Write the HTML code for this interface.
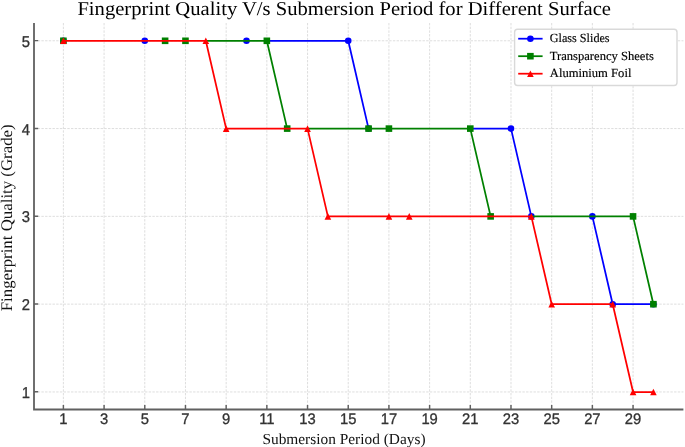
<!DOCTYPE html><html><head><meta charset="utf-8"><style>html,body{margin:0;padding:0;background:#fff;overflow:hidden;}svg{display:block;}</style></head><body>
<svg width="685" height="447" viewBox="0 0 685 447" text-rendering="geometricPrecision" style="filter:blur(0.6px)">
<rect x="-5" y="-5" width="695" height="457" fill="#fff"/>
<path d="M63.40 23.0 V409.5 M104.09 23.0 V409.5 M144.78 23.0 V409.5 M185.47 23.0 V409.5 M226.16 23.0 V409.5 M266.85 23.0 V409.5 M307.54 23.0 V409.5 M348.23 23.0 V409.5 M388.92 23.0 V409.5 M429.61 23.0 V409.5 M470.30 23.0 V409.5 M510.99 23.0 V409.5 M551.68 23.0 V409.5 M592.37 23.0 V409.5 M633.06 23.0 V409.5 M34.0 391.95 H683.4 M34.0 304.15 H683.4 M34.0 216.35 H683.4 M34.0 128.55 H683.4 M34.0 40.75 H683.4" stroke="#dadada" stroke-width="0.9" stroke-dasharray="2.4 1.3" fill="none"/>
<path d="M63.40 409.5 V405.0 M104.09 409.5 V405.0 M144.78 409.5 V405.0 M185.47 409.5 V405.0 M226.16 409.5 V405.0 M266.85 409.5 V405.0 M307.54 409.5 V405.0 M348.23 409.5 V405.0 M388.92 409.5 V405.0 M429.61 409.5 V405.0 M470.30 409.5 V405.0 M510.99 409.5 V405.0 M551.68 409.5 V405.0 M592.37 409.5 V405.0 M633.06 409.5 V405.0 M34.0 391.80 H38.2 M34.0 304.00 H38.2 M34.0 216.20 H38.2 M34.0 128.40 H38.2 M34.0 40.60 H38.2" stroke="#606060" stroke-width="1.45" fill="none"/>
<path d="M34.0 23.0 V409.5 H683.4" stroke="#606060" stroke-width="1.8" fill="none" stroke-linecap="butt" stroke-linejoin="miter"/>
<g font-family="Liberation Sans, sans-serif" font-size="14.8" fill="#333333" stroke="#333333" stroke-width="0.3" text-anchor="middle">
<text transform="translate(63.40 423.9) scale(1 1.03)">1</text>
<text transform="translate(104.09 423.9) scale(1 1.03)">3</text>
<text transform="translate(144.78 423.9) scale(1 1.03)">5</text>
<text transform="translate(185.47 423.9) scale(1 1.03)">7</text>
<text transform="translate(226.16 423.9) scale(1 1.03)">9</text>
<text transform="translate(266.85 423.9) scale(1 1.03)">11</text>
<text transform="translate(307.54 423.9) scale(1 1.03)">13</text>
<text transform="translate(348.23 423.9) scale(1 1.03)">15</text>
<text transform="translate(388.92 423.9) scale(1 1.03)">17</text>
<text transform="translate(429.61 423.9) scale(1 1.03)">19</text>
<text transform="translate(470.30 423.9) scale(1 1.03)">21</text>
<text transform="translate(510.99 423.9) scale(1 1.03)">23</text>
<text transform="translate(551.68 423.9) scale(1 1.03)">25</text>
<text transform="translate(592.37 423.9) scale(1 1.03)">27</text>
<text transform="translate(633.06 423.9) scale(1 1.03)">29</text>
</g>
<g font-family="Liberation Sans, sans-serif" font-size="14.8" fill="#333333" stroke="#333333" stroke-width="0.3" text-anchor="end">
<text transform="translate(30.0 397.90) scale(1 1.06)">1</text>
<text transform="translate(30.0 310.10) scale(1 1.06)">2</text>
<text transform="translate(30.0 222.30) scale(1 1.06)">3</text>
<text transform="translate(30.0 134.50) scale(1 1.06)">4</text>
<text transform="translate(30.0 46.70) scale(1 1.06)">5</text>
</g>
<path d="M266.85 40.80 L348.23 40.80 L368.57 128.60 M470.30 128.60 L510.99 128.60 L531.33 216.40 M592.37 216.40 L612.71 304.20 L653.40 304.20" stroke="#0000ff" stroke-width="1.75" fill="none" stroke-linejoin="round" stroke-linecap="butt"/>
<circle cx="63.40" cy="40.80" r="3.30" fill="#0000ff"/>
<circle cx="144.78" cy="40.80" r="3.30" fill="#0000ff"/>
<circle cx="246.50" cy="40.80" r="3.30" fill="#0000ff"/>
<circle cx="348.23" cy="40.80" r="3.30" fill="#0000ff"/>
<circle cx="368.57" cy="128.60" r="3.30" fill="#0000ff"/>
<circle cx="510.99" cy="128.60" r="3.30" fill="#0000ff"/>
<circle cx="531.33" cy="216.40" r="3.30" fill="#0000ff"/>
<circle cx="592.37" cy="216.40" r="3.30" fill="#0000ff"/>
<circle cx="612.71" cy="304.20" r="3.30" fill="#0000ff"/>
<circle cx="653.40" cy="304.20" r="3.30" fill="#0000ff"/>
<path d="M205.81 40.80 L266.85 40.80 L287.19 128.60 M307.54 128.60 L368.57 128.60 L388.92 128.60 L470.30 128.60 L490.64 216.40 M531.33 216.40 L633.06 216.40 L653.40 304.20" stroke="#008000" stroke-width="1.75" fill="none" stroke-linejoin="round" stroke-linecap="butt"/>
<rect x="60.10" y="37.50" width="6.60" height="6.60" fill="#008000"/>
<rect x="161.82" y="37.50" width="6.60" height="6.60" fill="#008000"/>
<rect x="182.17" y="37.50" width="6.60" height="6.60" fill="#008000"/>
<rect x="263.55" y="37.50" width="6.60" height="6.60" fill="#008000"/>
<rect x="283.89" y="125.30" width="6.60" height="6.60" fill="#008000"/>
<rect x="365.27" y="125.30" width="6.60" height="6.60" fill="#008000"/>
<rect x="385.62" y="125.30" width="6.60" height="6.60" fill="#008000"/>
<rect x="467.00" y="125.30" width="6.60" height="6.60" fill="#008000"/>
<rect x="487.34" y="213.10" width="6.60" height="6.60" fill="#008000"/>
<rect x="629.76" y="213.10" width="6.60" height="6.60" fill="#008000"/>
<rect x="650.11" y="300.90" width="6.60" height="6.60" fill="#008000"/>
<path d="M63.40 40.80 L205.81 40.80 L226.16 128.60 L307.54 128.60 L327.88 216.40 L388.92 216.40 L409.26 216.40 L531.33 216.40 L551.68 304.20 L612.71 304.20 L633.06 392.00 L653.40 392.00" stroke="#ff0000" stroke-width="1.75" fill="none" stroke-linejoin="round" stroke-linecap="butt"/>
<path d="M63.40 37.50 L66.70 44.10 L60.10 44.10 Z" fill="#ff0000"/>
<path d="M205.81 37.50 L209.12 44.10 L202.51 44.10 Z" fill="#ff0000"/>
<path d="M226.16 125.30 L229.46 131.90 L222.86 131.90 Z" fill="#ff0000"/>
<path d="M307.54 125.30 L310.84 131.90 L304.24 131.90 Z" fill="#ff0000"/>
<path d="M327.88 213.10 L331.19 219.70 L324.58 219.70 Z" fill="#ff0000"/>
<path d="M388.92 213.10 L392.22 219.70 L385.62 219.70 Z" fill="#ff0000"/>
<path d="M409.26 213.10 L412.56 219.70 L405.96 219.70 Z" fill="#ff0000"/>
<path d="M531.33 213.10 L534.63 219.70 L528.03 219.70 Z" fill="#ff0000"/>
<path d="M551.68 300.90 L554.98 307.50 L548.38 307.50 Z" fill="#ff0000"/>
<path d="M612.71 300.90 L616.01 307.50 L609.41 307.50 Z" fill="#ff0000"/>
<path d="M633.06 388.70 L636.36 395.30 L629.76 395.30 Z" fill="#ff0000"/>
<path d="M653.40 388.70 L656.70 395.30 L650.11 395.30 Z" fill="#ff0000"/>
<rect x="514.6" y="29.3" width="162.4" height="56.2" rx="3" ry="3" fill="#fff" stroke="#d9d9d9" stroke-width="1.4"/>
<path d="M518.2 38.7 H542.6" stroke="#0000ff" stroke-width="1.75"/>
<circle cx="530.40" cy="38.70" r="3.30" fill="#0000ff"/>
<path d="M518.2 56.2 H542.6" stroke="#008000" stroke-width="1.75"/>
<rect x="527.10" y="52.90" width="6.60" height="6.60" fill="#008000"/>
<path d="M518.2 73.7 H542.6" stroke="#ff0000" stroke-width="1.75"/>
<path d="M530.40 70.40 L533.70 77.00 L527.10 77.00 Z" fill="#ff0000"/>
<g font-family="Liberation Serif, serif" font-size="12.4" fill="#000" stroke="#000" stroke-width="0.15">
<text x="549.8" y="42.3" textLength="59.8" lengthAdjust="spacingAndGlyphs">Glass Slides</text>
<text x="549.8" y="59.5" textLength="104" lengthAdjust="spacingAndGlyphs">Transparency Sheets</text>
<text x="549.8" y="76.6" textLength="81.6" lengthAdjust="spacingAndGlyphs">Aluminium Foil</text>
</g>
<text x="77.4" y="15.0" font-family="Liberation Serif, serif" font-size="19.6" fill="#000" textLength="533.6" lengthAdjust="spacingAndGlyphs">Fingerprint Quality V/s Submersion Period for Different Surface</text>
<text x="262.4" y="443.9" font-family="Liberation Serif, serif" font-size="15.3" fill="#111" textLength="163.2" lengthAdjust="spacingAndGlyphs">Submersion Period (Days)</text>
<text transform="translate(11.8 311.3) rotate(-90)" x="0" y="0" font-family="Liberation Serif, serif" font-size="16.2" fill="#111" textLength="187" lengthAdjust="spacingAndGlyphs">Fingerprint Quality (Grade)</text>
</svg></body></html>
